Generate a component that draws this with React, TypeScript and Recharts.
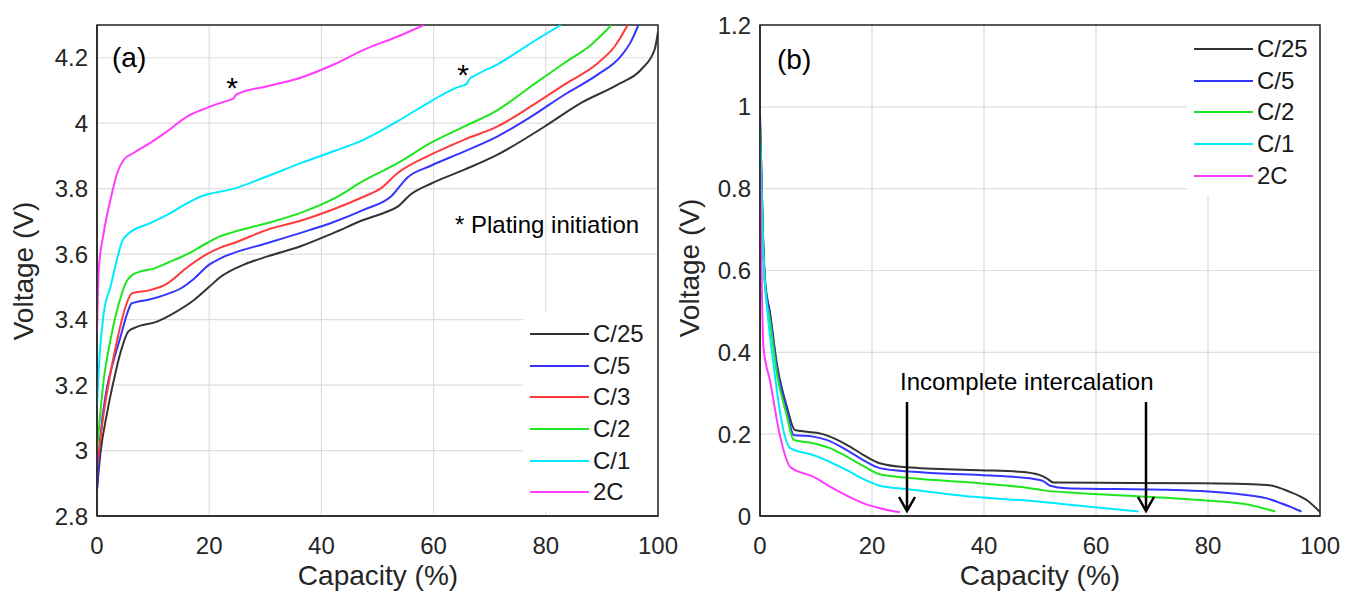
import React from 'react';
import { LineChart, Line, XAxis, YAxis, CartesianGrid, Legend, ReferenceArea } from 'recharts';

const FONT = '"Liberation Sans", Arial, Helvetica, sans-serif';
const INK = '#262626';

// (a) charge curves: [capacity %, voltage V]
const chgC25: [number, number][] = [
  [0, 2.88], [0.6, 2.99], [1.8, 3.115], [3.0, 3.215], [4.2, 3.3], [5.6, 3.364], [7.1, 3.378],
  [10.7, 3.394], [13.7, 3.42], [17.3, 3.46], [20, 3.5], [22, 3.53], [26.2, 3.568], [30.4, 3.593],
  [36.3, 3.624], [42.2, 3.665], [47.6, 3.705], [51, 3.725], [53.6, 3.745], [55.9, 3.782],
  [59.5, 3.815], [65.5, 3.858], [71.4, 3.904], [79.8, 3.99], [86.3, 4.062], [92.8, 4.118],
  [97, 4.164], [99.4, 4.225], [100, 4.28],
];
const chgC5: [number, number][] = [
  [0, 2.88], [0.6, 3.04], [1.7, 3.185], [3.0, 3.277], [4.2, 3.348], [5.4, 3.42], [6.2, 3.45],
  [9.5, 3.462], [12.5, 3.478], [14.9, 3.495], [17.3, 3.525], [20, 3.568], [22, 3.587],
  [30.4, 3.634], [36.3, 3.665], [42.2, 3.698], [47.6, 3.736], [52.4, 3.776], [55.4, 3.835],
  [59.5, 3.87], [65.5, 3.914], [71.4, 3.96], [77.4, 4.02], [83.3, 4.087], [89.3, 4.149],
  [93.4, 4.205], [95.2, 4.25], [96.5, 4.3],
];
const chgC3: [number, number][] = [
  [0, 2.95], [1.2, 3.114], [2.4, 3.237], [3.6, 3.338], [5.1, 3.44], [6.2, 3.48], [9.5, 3.49],
  [12.5, 3.51], [16.1, 3.56], [19.6, 3.6], [22, 3.62], [24.4, 3.634], [30.4, 3.675], [36.3, 3.702],
  [41.7, 3.734], [47.6, 3.776], [50.5, 3.8], [53.6, 3.848], [59.5, 3.904], [65.5, 3.95],
  [71.4, 3.99], [77.4, 4.052], [83.3, 4.118], [89.3, 4.184], [92.3, 4.235], [94.6, 4.3],
];
const chgC2: [number, number][] = [
  [0, 3.0], [1.2, 3.216], [2.4, 3.338], [3.6, 3.43], [5.4, 3.52], [6.2, 3.535], [7.7, 3.547],
  [10, 3.555], [12.5, 3.573], [16.1, 3.6], [19.6, 3.634], [22, 3.655], [24.4, 3.668],
  [30.4, 3.695], [36.3, 3.726], [42.3, 3.77], [47.6, 3.825], [53.6, 3.878], [59.5, 3.94],
  [65.5, 3.99], [71.4, 4.04], [77.4, 4.113], [83.3, 4.184], [88.1, 4.24], [91.7, 4.3],
];
const chgC1: [number, number][] = [
  [0, 3.14], [0.5, 3.3], [1.2, 3.42], [2.4, 3.5], [3.5, 3.58], [4.5, 3.64], [5.4, 3.66],
  [9.5, 3.695], [12.5, 3.72], [16.1, 3.756], [18.5, 3.776], [24.4, 3.8], [30.4, 3.838],
  [36.3, 3.878], [42.3, 3.915], [47.6, 3.95], [53.6, 4.006], [59.5, 4.067], [64, 4.108],
  [65.9, 4.12], [66.4, 4.135], [67.3, 4.145], [71.4, 4.18], [77.4, 4.245], [82.7, 4.3],
];
const chg2C: [number, number][] = [
  [0, 3.36], [0.3, 3.55], [1.2, 3.665], [2.4, 3.766], [3.6, 3.848], [4.8, 3.889], [6.5, 3.909],
  [9.5, 3.94], [12.5, 3.975], [16.1, 4.021], [19.6, 4.047], [23.8, 4.072], [24.3, 4.075],
  [24.8, 4.087], [30.4, 4.113], [36.3, 4.139], [42.3, 4.18], [47.6, 4.225], [53.6, 4.265],
  [58.3, 4.3],
];

// (b) anode potential curves: [capacity %, voltage V]
const anoC25: [number, number][] = [
  [0, 0.98], [0.5, 0.7], [0.9, 0.577], [1.8, 0.496], [3.0, 0.373], [4.8, 0.267], [6.25, 0.21],
  [8.3, 0.206], [10.7, 0.202], [12.5, 0.194], [15.5, 0.174], [18.5, 0.149], [21.4, 0.129],
  [26.2, 0.119], [39.3, 0.112], [46.4, 0.108], [50, 0.1], [51.2, 0.092], [52.4, 0.082],
  [60.7, 0.081], [78.6, 0.08], [90.5, 0.076], [94.6, 0.059], [97.6, 0.039], [100, 0.01],
];
const anoC5: [number, number][] = [
  [0, 0.968], [0.5, 0.7], [0.9, 0.57], [1.8, 0.49], [3.0, 0.365], [4.8, 0.26], [6, 0.198],
  [9.5, 0.194], [11.9, 0.186], [15.5, 0.161], [18.5, 0.136], [21.4, 0.117], [27.4, 0.108],
  [39.3, 0.1], [48.2, 0.092], [50.5, 0.086], [51.8, 0.074], [54.8, 0.068], [72.6, 0.064],
  [84.5, 0.055], [90.5, 0.043], [94.6, 0.023], [96.7, 0.011],
];
const anoC2: [number, number][] = [
  [0, 0.944], [0.5, 0.69], [0.9, 0.56], [1.8, 0.475], [3.0, 0.35], [4.8, 0.245], [6, 0.186],
  [9.5, 0.178], [12.5, 0.166], [15.5, 0.145], [18.5, 0.122], [21.4, 0.102], [27.4, 0.092],
  [39.3, 0.08], [48.2, 0.068], [51, 0.062], [56, 0.057], [66.7, 0.049], [78.6, 0.039],
  [87.5, 0.027], [92, 0.011],
];
const anoC1: [number, number][] = [
  [0, 0.919], [0.5, 0.66], [1.2, 0.52], [2.4, 0.373], [3.6, 0.251], [5.4, 0.166], [9.5, 0.149],
  [15.5, 0.112], [18.5, 0.09], [21.4, 0.074], [26.2, 0.066], [38.1, 0.047], [50, 0.035],
  [54.8, 0.028], [67.6, 0.011],
];
const ano2C: [number, number][] = [
  [0, 0.878], [0.6, 0.414], [1.8, 0.33], [3.6, 0.194], [5.4, 0.12], [9.5, 0.096], [12.5, 0.072],
  [15.5, 0.05], [18.5, 0.031], [21.4, 0.019], [25, 0.009],
];

const capTicks = [0, 20, 40, 60, 80, 100];
const chgTicks = [2.8, 3, 3.2, 3.4, 3.6, 3.8, 4, 4.2];
const anoTicks = [0, 0.2, 0.4, 0.6, 0.8, 1, 1.2];

const COLORS = {
  c25: '#333333',
  c5: '#3535ff',
  c3: '#ff3a3a',
  c2: '#1ee61e',
  c1: '#00eaff',
  c2x: '#ff3cff',
};

type Series = { name: string; color: string; pts: [number, number][] };

const seriesA: Series[] = [
  { name: 'C/25', color: COLORS.c25, pts: chgC25 },
  { name: 'C/5', color: COLORS.c5, pts: chgC5 },
  { name: 'C/3', color: COLORS.c3, pts: chgC3 },
  { name: 'C/2', color: COLORS.c2, pts: chgC2 },
  { name: 'C/1', color: COLORS.c1, pts: chgC1 },
  { name: '2C', color: COLORS.c2x, pts: chg2C },
];
const seriesB: Series[] = [
  { name: 'C/25', color: COLORS.c25, pts: anoC25 },
  { name: 'C/5', color: COLORS.c5, pts: anoC5 },
  { name: 'C/2', color: COLORS.c2, pts: anoC2 },
  { name: 'C/1', color: COLORS.c1, pts: anoC1 },
  { name: '2C', color: COLORS.c2x, pts: ano2C },
];

// keep the plotting order in the legend (recharts sorts by name otherwise)
const makeLegend = (series: Series[], padTop: number, rowH: number) => (props: any) => {
  const payload = [...(props.payload || [])].sort(
    (a: any, b: any) =>
      series.findIndex((s) => s.name === a.value) - series.findIndex((s) => s.name === b.value)
  );
  return (
    <div style={{ background: '#fff', paddingTop: padTop, paddingBottom: 4, fontFamily: FONT }}>
      {payload.map((p: any) => (
        <div key={p.value} style={{ display: 'flex', alignItems: 'center', height: rowH }}>
          <svg width={70} height={6} style={{ display: 'block' }}>
            <line x1={7} x2={66} y1={3} y2={3} stroke={p.color} strokeWidth={2} />
          </svg>
          <span style={{ fontSize: 24, color: '#1a1a1a', lineHeight: 1 }}>{p.value}</span>
        </div>
      ))}
    </div>
  );
};

interface PanelProps {
  series: Series[];
  left: number;
  width: number;
  yDomain: [number, number];
  yTicks: number[];
  axisW: number;
  marginRight: number;
  legendPos: { left: number; top: number; width: number; padTop: number };
}

function Panel({ series, left, width, yDomain, yTicks, axisW, marginRight, legendPos }: PanelProps) {
  const tickStyle = { fill: INK, fontSize: 24, fontFamily: FONT };
  return (
    <div style={{ position: 'absolute', left, top: 0 }}>
      <LineChart width={width} height={601} margin={{ top: 25, right: marginRight, bottom: 0, left: 0 }}>
        <CartesianGrid stroke="#dedede" strokeWidth={1.2} />
        <XAxis
          type="number"
          dataKey="x"
          domain={[0, 100]}
          ticks={capTicks}
          height={85}
          tickSize={0}
          tickMargin={21}
          allowDataOverflow
          axisLine={{ stroke: INK, strokeWidth: 1.5 }}
          tick={tickStyle}
        />
        <YAxis
          type="number"
          domain={yDomain}
          ticks={yTicks}
          width={axisW}
          tickSize={0}
          tickMargin={9}
          allowDataOverflow
          axisLine={{ stroke: INK, strokeWidth: 1.5 }}
          tick={tickStyle}
        />
        <ReferenceArea x1={0} x2={100} y1={yDomain[0]} y2={yDomain[1]} fill="none" stroke={INK} strokeWidth={1.5} />
        {series.map((s) => (
          <Line
            key={s.name}
            data={s.pts.map(([x, y]) => ({ x, y }))}
            dataKey="y"
            name={s.name}
            stroke={s.color}
            strokeWidth={2}
            type="monotone"
            dot={false}
            isAnimationActive={false}
          />
        ))}
        <Legend
          layout="vertical"
          align="center"
          verticalAlign="middle"
          content={makeLegend(series, legendPos.padTop, 31.7)}
          wrapperStyle={{ left: legendPos.left, top: legendPos.top, width: legendPos.width }}
        />
      </LineChart>
    </div>
  );
}

function Notes() {
  const txt = { fontFamily: FONT, fill: '#000' };
  const lab = { fontFamily: FONT, fill: INK, fontSize: 28 };
  const arrow = (x: number) => (
    <g stroke="#000" strokeWidth={2.5} fill="none">
      <line x1={x} x2={x} y1={402} y2={511} />
      <polyline points={`${x - 8},${497} ${x},${511} ${x + 8},${497}`} />
    </g>
  );
  return (
    <svg width={1345} height={601} style={{ position: 'absolute', left: 0, top: 0, pointerEvents: 'none' }}>
      <text x={112} y={67} fontSize={28} {...txt}>(a)</text>
      <text x={777} y={69} fontSize={28} {...txt}>(b)</text>
      <text x={232} y={98} fontSize={30} textAnchor="middle" {...txt}>*</text>
      <text x={463} y={85} fontSize={30} textAnchor="middle" {...txt}>*</text>
      <text x={455} y={233} fontSize={24} {...txt}>* Plating initiation</text>
      <text x={900} y={390} fontSize={24} {...txt}>Incomplete intercalation</text>
      {arrow(907)}
      {arrow(1146)}
      <text transform="translate(33,271) rotate(-90)" textAnchor="middle" {...lab}>Voltage (V)</text>
      <text transform="translate(699,268) rotate(-90)" textAnchor="middle" {...lab}>Voltage (V)</text>
      <text x={378} y={585} textAnchor="middle" {...lab}>Capacity (%)</text>
      <text x={1040} y={585} textAnchor="middle" {...lab}>Capacity (%)</text>
    </svg>
  );
}

export default function App() {
  return (
    <div style={{ position: 'absolute', left: 0, top: 0, width: 1345, height: 601, background: '#fff', overflow: 'hidden' }}>
      <Panel
        series={seriesA}
        left={0}
        width={700}
        yDomain={[2.8, 4.3]}
        yTicks={chgTicks}
        axisW={97}
        marginRight={42}
        legendPos={{ left: 523, top: 313, width: 134, padTop: 5 }}
      />
      <Panel
        series={seriesB}
        left={660}
        width={685}
        yDomain={[0, 1.2]}
        yTicks={anoTicks}
        axisW={100}
        marginRight={25}
        legendPos={{ left: 527, top: 27, width: 132, padTop: 6 }}
      />
      <Notes />
    </div>
  );
}
